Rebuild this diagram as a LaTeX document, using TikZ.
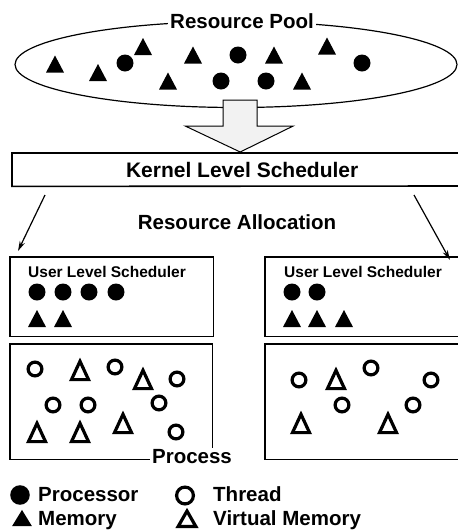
\documentclass[tikz,border=0pt]{standalone}
\usepackage{fontspec}
\setmainfont{Liberation Sans}
\usetikzlibrary{arrows.meta,calc,shapes.geometric}

\tikzset{
  panel/.style={anchor=north west, inner sep=0pt},
  rim/.style={line width=1.6pt, line join=miter, line cap=butt},
  lbl/.style={font=\bfseries\fontsize{20.5}{24}\selectfont, inner sep=0pt},
  small/.style={font=\bfseries\fontsize{15.5}{18}\selectfont, inner sep=0pt, anchor=base west},
  gap/.style={fill=white, inner xsep=2pt, inner ysep=1pt},
  alloc/.style={line width=1.2pt, -{Stealth[length=10pt,width=5.5pt]}},
  % resource glyphs
  dotf/.pic={\fill (0,0) circle (8.5pt);},
  trif/.pic={\fill (-9,8.5) -- (9,8.5) -- (0,-8.5) -- cycle;},
  ring/.pic={\draw[line width=3.2pt] (0,0) circle (6.9pt);},
  trio/.pic={\draw[line width=3.2pt, line join=miter] (-8.5,10.1) -- (8.5,10.1) -- (0,-8.2) -- cycle;},
}

\begin{document}
\begin{tikzpicture}[x=1pt, y=-1pt]
  \useasboundingbox (0,0) rectangle (458,531);

  % resource pool
  \node[draw, ellipse, line width=1.2pt, minimum width=442, minimum height=86, inner sep=0pt] (pool) at (236,64.5) {};
  \node[lbl, gap, anchor=base] (pooltxt) at (242,28) {Resource Pool};
  \foreach \p in {(55,64),(98,72.5),(143,46.5),(193,55),(168,81),(274,55),(302,81),(327,46)}
    \pic at \p {trif};
  \foreach \p in {(125,63),(238,55),(221,81),(266,81),(362,63)}
    \pic at \p {dotf};

  % kernel level scheduler, open at the right margin
  \node[panel, font=\bfseries\fontsize{21}{24}\selectfont, minimum width=460, minimum height=33] (kernel) at (12,153) {Kernel Level Scheduler};
  \draw[rim] (458,153) -- (kernel.north west) -- (kernel.south west) -- (458,186);

  % block arrow from the pool down to the kernel
  \coordinate (tip) at ($(kernel.north)+(-2,-1)$);
  \draw[line width=1pt, fill=black!5, line join=miter]
    ($(tip)+(-17,-52)$) -- ($(tip)+(17,-52)$) -- ($(tip)+(17,-26)$) -- ($(tip)+(53,-26)$)
    -- (tip) -- ($(tip)+(-55,-26)$) -- ($(tip)+(-17,-26)$) -- cycle;

  % resource allocation
  \node[lbl, anchor=base] (alloctxt) at (237,229) {Resource Allocation};
  \coordinate (la0) at (45,195);
  \coordinate (la1) at (18,251);
  \coordinate (ra0) at (414,195);
  \coordinate (ra1) at (450,260);
  \draw[alloc] (la0) -- (la1);
  \draw[alloc] (ra0) -- (ra1);

  % user level schedulers
  \node[panel, minimum width=203, minimum height=79] (lusr) at (10,257) {};
  \node[panel, minimum width=193, minimum height=79] (rusr) at (265,257) {};
  \draw[rim] (lusr.north west) rectangle (lusr.south east);
  \draw[rim] (rusr.north east) -- (rusr.north west) -- (rusr.south west) -- (rusr.south east);
  \node[small] (lusrtxt) at (28,277) {User Level Scheduler};
  \node[small] (rusrtxt) at (284,277) {User Level Scheduler};
  \foreach \x in {37,63,89,116} \pic at (\x,292) {dotf};
  \foreach \x in {37,63} \pic at (\x,318.5) {trif};
  \foreach \x in {292,317} \pic at (\x,292) {dotf};
  \foreach \x in {292,317,344} \pic at (\x,318.5) {trif};

  % processes
  \node[panel, minimum width=202, minimum height=115] (lproc) at (10,344) {};
  \node[panel, minimum width=193, minimum height=115] (rproc) at (265,344) {};
  \draw[rim] (lproc.north west) rectangle (lproc.south east);
  \draw[rim] (rproc.north east) -- (rproc.north west) -- (rproc.south west) -- (rproc.south east);
  \foreach \p in {(35,369),(115,367),(177,379),(53,405),(88,405),(159,403),(176,432)}
    \pic at \p {ring};
  \foreach \p in {(80,369.5),(143,378.5),(37,431.5),(80,431.5),(123,422.5)}
    \pic at \p {trio};
  \foreach \p in {(299,380),(371,368),(431,380),(342,405),(413,405)}
    \pic at \p {ring};
  \foreach \p in {(336,378.5),(301,422.5),(388,422.5)}
    \pic at \p {trio};
  \node[lbl, gap, anchor=base] (proctxt) at (192,463) {Process};

  % legend
  \pic[scale=1.15] at (20,495) {dotf};
  \pic[xscale=1.1, yscale=0.95] at (22,518) {trif};
  \pic[scale=1.22] at (185,495.5) {ring};
  \pic[xscale=1.05, yscale=0.85] at (187,518) {trio};
  \node[lbl, anchor=base west] (kproc) at (38,501) {Processor};
  \node[lbl, anchor=base west] (kmem) at (38,525.7) {Memory};
  \node[lbl, anchor=base west] (kthr) at (213,501) {Thread};
  \node[lbl, anchor=base west] (kvm) at (213,525.7) {Virtual Memory};
\end{tikzpicture}
\end{document}
